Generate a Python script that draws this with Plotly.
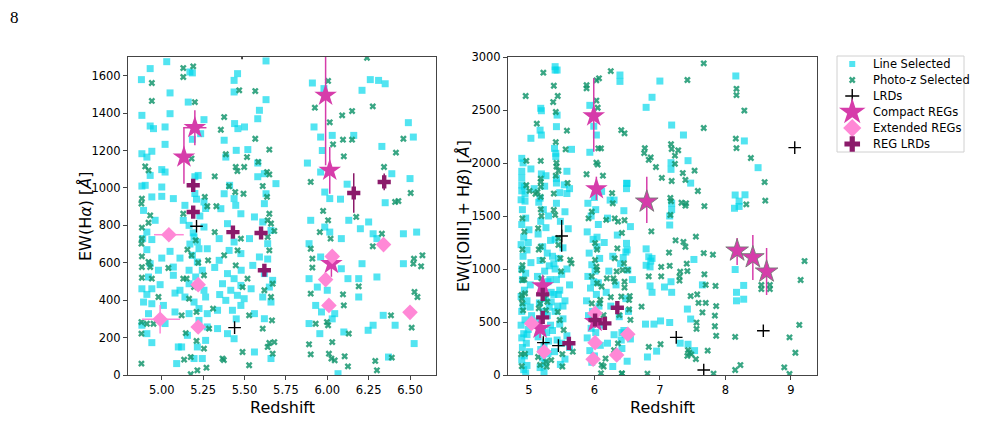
import plotly.graph_objects as go

# ---------------- LEFT PANEL DATA (EW Halpha) ----------------
L_line = [(5.03,1675),(4.93,1638),(4.877,1579),(5.05,1508),(4.88,1388),(5.05,1397),(4.93,1331),(4.95,1317),(5.02,1326),(5.02,1233),(4.88,1183),(4.94,1196),(4.91,1165),(5.0,1098),(5.02,1085),(4.93,1067),(4.9,1014),(4.88,1010),(5.0,1005),(4.94,952),(5.0,955),(5.07,943),(4.89,880),(4.96,827),(4.91,764),(4.885,729),(4.94,724),(4.91,670),(5.0,625),(5.11,625),(5.05,661),(4.93,595),(5.07,577),(4.92,524),(4.98,560),(5.07,533),(4.99,483),(4.88,461),(4.94,461),(4.91,431),(4.89,390),(4.94,381),(5.08,438),(5.11,453),(5.01,372),(4.92,328),(5.08,337),(4.91,221),(4.94,173),(5.1,150),(5.09,61),(4.88,266),(5.02,275),
 (5.17,1620),(5.185,1615),(5.16,1459),(5.255,1365),(5.235,1290),(5.185,1260),(5.22,1067),(5.2,1060),(5.14,907),(5.255,925),(5.265,890),(5.13,827),(5.255,791),(5.165,800),(5.195,738),(5.215,711),(5.225,675),(5.275,675),(5.185,640),(5.215,604),(5.165,560),(5.245,560),(5.205,524),(5.165,488),(5.255,453),(5.14,417),(5.195,390),(5.265,417),(5.225,355),(5.165,328),(5.275,328),(5.225,292),(5.275,257),(5.155,212),(5.265,185),(5.215,150),(5.195,88),(5.245,88),(5.12,150),(5.2,970),(5.21,940),(5.23,850),(5.19,760),(5.17,700),
 (5.377,1255),(5.44,1344),(5.46,1317),(5.5,1326),(5.45,1201),(5.387,1165),(5.41,1014),(5.377,969),(5.437,943),(5.447,907),(5.357,889),(5.478,862),(5.397,809),(5.347,729),(5.437,711),(5.407,666),(5.478,649),(5.347,613),(5.397,542),(5.437,515),(5.367,488),(5.478,479),(5.417,453),(5.457,426),(5.387,399),(5.498,408),(5.337,346),(5.427,346),(5.478,372),(5.397,221),(5.437,194),(5.337,248),(5.458,1611),(5.437,1575),(5.437,1513),(5.32,575),(5.35,430),(5.45,300),(5.48,560),
 (5.63,1679),(5.63,1472),(5.59,1415),(5.58,1370),(5.52,1205),(5.58,1133),(5.62,1076),(5.69,1023),(5.63,969),(5.62,916),(5.56,845),(5.61,818),(5.66,773),(5.53,729),(5.64,702),(5.59,631),(5.55,586),(5.62,542),(5.67,506),(5.54,461),(5.61,417),(5.66,390),(5.56,328),(5.62,301),(5.56,123),(5.66,88),(5.58,1060),(5.64,620),(5.65,470),
 (5.91,1561),(5.98,1531),(5.92,1326),(5.96,1272),(6.03,1281),(5.88,1133),(5.96,1085),(5.985,978),(6.015,943),(5.9,827),(5.985,791),(6.015,764),(5.89,702),(5.96,631),(5.89,515),(5.94,470),(6.0,453),(5.93,372),(5.965,337),(5.955,221),(5.89,275),(6.065,7),(6.03,300),(5.97,1200),
 (6.21,1522),(6.16,1281),(6.26,1579),(6.31,1575),(6.35,1557),(6.33,1222),(6.39,1076),(6.35,921),(6.25,818),(6.13,827),(6.2,782),(6.085,729),(6.277,755),(6.3,729),(6.21,595),(6.085,568),(6.125,515),(6.19,515),(6.3,524),(6.19,417),(6.247,239),(6.277,266),(6.338,319),(6.37,96),(6.045,328),(6.1,230),(6.08,940),(6.12,1020),
 (6.49,1349),(6.52,1272),(6.5,1050),(6.46,755),(6.54,764),(6.46,595),(6.41,266),(6.525,168)]

L_photo = [(5.13,1641),(5.19,1650),(5.13,1593),(4.94,1561),(4.94,1465),(4.9,1115),(4.92,1094),(4.88,943),(4.877,916),(4.93,853),(4.92,814),(4.88,788),(4.88,729),(4.877,702),(4.88,634),(4.92,604),(4.93,577),(4.88,577),(4.88,520),(4.94,515),(4.98,417),(4.877,283),(4.91,274),(4.95,274),(4.877,221),(4.877,61),(5.04,572),(5.13,515),
 (5.2,1459),(5.18,1157),(5.13,862),(5.26,952),(5.275,902),(5.205,720),(5.155,670),(5.18,640),(5.28,613),(5.255,533),(5.22,600),(5.15,515),(5.195,470),(5.165,408),(5.12,319),(5.21,337),(5.145,224),(5.21,182),(5.255,141),(5.175,96),(5.135,82),(5.215,25),(5.27,39),(5.175,4),(5.32,1062),(5.32,764),(5.31,355),(5.286,248),(5.377,1379),(5.357,1311),(5.387,1180),(5.367,88),
 (5.447,1112),(5.457,1090),(5.498,1112),(5.515,1165),(5.407,1009),(5.444,978),(5.494,969),(5.33,902),(5.478,729),(5.458,666),(5.377,640),(5.447,586),(5.518,515),(5.488,470),(5.528,319),(5.488,123),(5.528,52),(5.468,1522),(5.565,1518),(5.375,80),
 (5.565,1263),(5.65,1205),(5.583,1139),(5.636,1085),(5.65,1072),(5.61,1010),(5.636,952),(5.65,862),(5.64,827),(5.66,810),(5.68,770),(5.64,738),(5.65,666),(5.67,488),(5.62,453),(5.66,417),(5.61,248),(5.666,292),(5.65,171),(5.68,176),(5.67,114),(5.64,150),
 (5.925,1429),(6.005,1572),(6.015,1351),(6.035,1233),(5.9,1032),(5.975,877),(6.005,827),(5.955,764),(6.02,729),(5.9,675),(5.91,622),(5.91,574),(5.9,435),(5.998,283),(6.005,266),(5.93,274),(5.89,164),(5.9,110),(6.03,176),(6.01,114),(6.025,88),(6.045,78),(6.095,431),(6.1,372),
 (6.09,1388),(6.15,1411),(6.275,1436),(6.095,1258),(6.15,1258),(6.1,1169),(6.175,845),(6.275,688),(6.33,755),(6.19,474),(6.13,221),(6.105,100),(6.125,46),(6.29,75),(6.3,25),(6.39,93),(6.385,319),(6.343,1112),(6.415,1189),(6.46,1263),(6.24,1696),(6.41,925),(6.43,930),
 (6.504,973),(6.524,622),(6.575,640),(6.52,595),(6.567,581),(6.527,444),(6.545,417),(6.51,253)]

L_lrd_z = [5.21, 5.44, 5.485]
L_lrd_ew = [795, 253, 1722]

L_comp_z = [5.20, 5.134, 5.99, 6.015, 6.025]
L_comp_ew = [1322, 1165, 1495, 1094, 595]
L_comp_ep = [93, 160, 300, 125, 70]
L_comp_em = [94, 143, 374, 125, 70]
L_comp_xe = [0.07, 0, 0, 0, 0]

L_ext_z = [5.043, 4.99, 5.22, 5.22, 6.03, 5.99, 6.01, 6.34, 6.50]
L_ext_ew = [750, 298, 483, 257, 634, 510, 372, 697, 335]
L_ext_ye = [0, 76, 0, 0, 0, 0, 0, 20, 0]
L_ext_xp = [0.09, 0.12, 0, 0, 0, 0, 0, 0, 0]
L_ext_xm = [0.09, 0.11, 0, 0, 0, 0, 0, 0, 0]

L_rl_z = [5.19, 5.19, 5.43, 5.60, 5.62, 6.16, 6.344]
L_rl_ew = [1014, 871, 764, 759, 560, 973, 1032]
L_rl_ye = [0, 0, 0, 0, 0, 105, 45]

# ---------------- RIGHT PANEL DATA (EW [OIII]+Hbeta) ----------------
R_line = [(5.40,2909),(5.40,2877),(5.43,2877),(5.18,2516),(5.19,2493),(5.03,2233),(5.19,2264),(5.17,2310),(5.42,2343),(5.43,2452),(5.39,2138),(5.41,2091),(5.41,2060),(5.65,2129),(4.89,2044),(4.91,2001),(5.03,1944),(4.89,1922),(5.19,1897),(5.26,1880),(5.42,1853),(5.58,1922),(4.89,1860),(4.89,1793),(4.93,1776),(4.94,1709),(4.89,1737),(5.08,1758),(5.24,1781),(5.42,1811),(5.54,1794),(5.62,1758),(5.58,1712),(5.47,1720),(4.94,1640),(4.88,1653),(5.17,1668),(5.93,2101),(5.99,2347),(6.03,2264),(5.93,2544),(6.0,1675),(6.11,1732),(6.24,1650),(6.39,2830),(6.49,1808),(6.49,1758),
 (6.39,2770),(7.0,2773),(6.88,2620),(6.79,2525),(7.18,2358),(7.36,2264),(8.16,2821),(8.29,2208),(7.43,2022),(7.17,2003),(8.50,1956),(6.50,1808),(7.17,1940),(7.47,1810),(8.15,1698),(8.30,1700),(8.21,1640),(8.14,1573),(7.18,1620),
 (4.90,1560),(4.95,1480),(4.89,1420),(5.00,1370),(4.92,1300),(4.88,1230),(4.97,1180),(4.91,1120),(5.03,1060),(4.89,1000),(4.95,960),(4.90,900),(5.02,850),(4.93,800),(4.88,740),(4.97,700),(4.91,650),(4.89,600),(5.04,560),(4.94,520),(4.88,470),(4.99,430),(4.92,390),(4.89,350),(4.96,300),(4.90,260),(5.01,220),(4.93,180),(4.89,140),(4.97,90),(4.92,50),(4.95,20),(4.99,1250),(5.02,640),(4.97,380),
 (5.15,1630),(5.22,1560),(5.30,1500),(5.18,1450),(5.26,1390),(5.14,1330),(5.33,1270),(5.21,1210),(5.28,1150),(5.17,1080),(5.31,1030),(5.24,980),(5.13,930),(5.29,880),(5.19,830),(5.34,780),(5.25,720),(5.16,680),(5.31,640),(5.22,600),(5.28,560),(5.15,510),(5.33,470),(5.20,430),(5.27,400),(5.14,360),(5.30,320),(5.23,280),(5.18,240),(5.29,200),(5.21,160),(5.25,110),(5.17,70),(5.23,30),(5.32,900),(5.34,690),(5.36,1120),
 (5.42,1620),(5.55,1540),(5.48,1450),(5.60,1380),(5.40,1280),(5.52,1200),(5.45,1100),(5.38,1050),(5.58,1000),(5.50,950),(5.42,900),(5.62,850),(5.47,800),(5.38,760),(5.55,700),(5.44,650),(5.40,600),(5.52,530),(5.47,480),(5.36,420),(5.58,370),(5.43,330),(5.50,300),(5.62,260),(5.39,220),(5.55,150),(5.48,100),(5.40,1000),(5.45,760),(5.52,650),
 (5.90,1620),(6.02,1560),(5.95,1500),(6.06,1420),(5.89,1350),(5.98,1280),(6.04,1210),(5.92,1150),(6.08,1100),(5.96,1040),(6.01,980),(5.90,930),(6.06,870),(5.94,820),(6.03,760),(5.88,700),(6.07,650),(5.97,600),(5.91,560),(6.05,500),(5.95,440),(6.02,400),(5.89,350),(6.09,280),(5.93,230),(6.00,180),(5.96,120),(6.04,1300),(5.99,880),
 (6.30,1650),(6.45,1550),(6.20,1480),(6.55,1400),(6.35,1320),(6.15,1250),(6.50,1180),(6.28,1120),(6.40,1050),(6.22,980),(6.58,900),(6.33,850),(6.18,780),(6.48,720),(6.25,650),(6.52,600),(6.38,550),(6.12,470),(6.45,420),(6.30,380),(6.55,340),(6.20,300),(6.42,250),(6.35,180),(6.50,130),(6.28,80),
 (6.49,1242),(6.48,1160),(6.44,1108),(6.51,990),(6.79,1190),(6.83,1115),(6.86,1075),(6.88,1100),(6.85,1020),(6.79,1035),(7.15,1415),(7.15,1500),(7.18,1560),(7.52,1090),(7.17,880),(7.18,780),(7.07,830),(6.88,780),(6.85,840),(7.42,622),(7.47,528),(7.31,300),(6.81,170),(6.95,225),(7.01,510),(6.91,480),(6.78,480),(7.15,495),(7.43,290),(7.53,230),(7.65,850),(8.15,995),(8.21,1590),(8.17,780),(8.28,845),(8.28,715),(8.17,700),(6.42,400),(6.47,385),(6.41,330)]

R_photo = [(4.95,2632),(4.96,2020),(5.22,2852),(5.38,2729),(5.44,2632),(5.37,2575),(5.41,2481),(5.12,2371),(5.58,2305),(5.41,2197),(5.56,2129),(5.18,2020),(5.42,2001),(5.42,1966),(5.45,1927),(5.41,1880),(5.18,1853),(5.18,1822),(5.59,1811),(4.96,1790),(5.01,1737),(5.13,1726),(5.10,1709),(5.18,1775),(5.18,1680),(5.38,1712),(5.88,2734),(5.88,2704),(6.03,2780),(6.07,2799),(6.03,2589),(6.05,2521),(6.06,2138),(6.10,2138),(6.03,2004),(6.05,1985),(5.88,1894),(6.13,1880),(6.27,1716),(6.25,2867),(6.46,2280),
 (7.67,2940),(7.42,2783),(8.17,2700),(8.17,2640),(8.29,2495),(6.41,2310),(7.67,2330),(8.16,2230),(8.17,2140),(6.77,2140),(6.76,2093),(7.17,2178),(7.18,2132),(7.28,2120),(7.23,2070),(6.86,2053),(6.83,2030),(6.94,1962),(7.23,1992),(7.03,1860),(7.18,1830),(7.35,1905),(7.39,1840),(7.53,1928),(7.58,1736),(8.39,2047),(8.60,1820),(8.61,1645),(8.32,1610),(7.68,1593),(7.16,1670),(7.17,1640),(7.33,1625),(7.39,1597),(7.40,1620),
 (4.90,1478),(4.93,1352),(4.90,1184),(4.90,1036),(4.89,990),(4.90,896),(4.89,755),(4.89,720),(4.90,675),(4.91,610),(4.94,770),(4.93,900),(4.88,196),(4.94,200),(4.89,83),(5.14,1384),(5.18,1211),(5.15,1184),(5.18,1563),(5.19,1500),(5.21,1085),(5.38,1557),(5.40,1510),(5.45,1290),(5.45,1227),(5.48,1101),(5.63,1085),(5.65,1053),(5.49,977),(5.19,912),(5.17,675),(5.15,629),(5.26,612),(5.28,690),(5.24,723),(5.44,595),(5.47,519),(5.53,425),(5.67,220),(5.51,197),(5.34,140),(5.26,127),(5.17,95),(5.27,80),(5.51,80),(5.14,170),
 (5.91,1478),(5.96,1540),(6.01,1245),(6.04,1184),(6.01,1085),(6.03,1022),(6.04,990),(5.96,930),(6.04,865),(6.11,835),(6.09,708),(6.08,675),(5.96,675),(5.99,550),(6.14,565),(6.19,912),(6.29,912),(6.34,977),(6.45,1053),(6.31,880),(6.42,1340),(6.36,1447),(6.31,1478),(6.35,1195),(6.31,1100),(6.43,990),(6.46,880),(6.53,708),(6.55,520),(6.30,234),(6.36,298),(6.38,565),(6.41,740),(6.25,735),(6.17,155),(6.14,80),(6.10,16),(6.11,95),(6.42,16),(6.28,1620),(6.18,1463),
 (6.46,1460),(6.87,1355),(7.16,1510),(7.24,1270),(7.36,1255),(7.39,1210),(7.55,1305),(7.67,1150),(7.81,1135),(7.14,1155),(7.15,1030),(7.31,975),(7.41,1050),(6.51,990),(7.02,1020),(6.83,930),(7.02,930),(7.30,930),(7.42,980),(7.68,950),(7.70,850),(7.85,840),(7.30,890),(6.46,825),(6.54,745),(7.47,745),(7.57,760),(6.53,620),(6.72,645),(7.59,680),(7.70,680),(7.65,590),(7.86,650),(7.84,560),(7.56,495),(7.56,435),(7.84,460),(7.86,370),(8.15,360),(9.21,1075),(9.15,896),(8.55,850),(8.55,810),(8.68,810),(8.68,850),(8.98,355),(9.13,472),(9.07,210),(8.90,72),(8.98,10),(8.23,94),(8.15,47),(6.83,265),(7.01,290),(7.43,235),(7.45,210),(7.42,180),(7.48,195),(7.73,230),(7.82,13),(7.55,150),(6.81,13),(6.42,13)]

R_lrd_z = [5.50, 5.45, 5.22, 7.25, 7.67, 8.58, 9.06]
R_lrd_ew = [1311, 277, 305, 355, 47, 418, 2145]
R_lrd_ep = [151, 0, 40, 0, 0, 0, 0]
R_lrd_em = [148, 0, 40, 0, 0, 0, 0]

R_comp_z = [5.99, 6.03, 6.80, 8.18, 8.42, 8.63, 5.21, 5.17, 6.01]
R_comp_ew = [2443, 1755, 1635, 1173, 1110, 975, 840, 440, 503]
R_comp_ep = [356, 116, 236, 119, 211, 223, 0, 90, 60]
R_comp_em = [336, 104, 201, 135, 214, 220, 0, 90, 60]

R_ext_z = [5.04, 5.23, 6.01, 6.01, 5.98, 6.34, 6.51]
R_ext_ew = [487, 220, 582, 305, 148, 189, 384]

R_rl_z = [5.21, 5.21, 6.01, 6.16, 6.35, 5.61]
R_rl_ew = [761, 544, 519, 487, 635, 299]

LEGEND_LABELS = ["Line Selected", "Photo-z Selected", "LRDs", "Compact REGs", "Extended REGs", "REG LRDs"]

# ---------------- styles ----------------
CYAN = "rgba(0,215,235,0.68)"
GREEN = "rgba(22,150,110,0.85)"
STAR = "#d63caa"
DIAM = "#ff88d6"
RLRD = "#8b1a6a"
FONT = "DejaVu Sans"

STYLES = [
    dict(symbol="square", size=7, color=CYAN, line=dict(width=0)),
    dict(symbol="x", size=6, color=GREEN, line=dict(width=0)),
    dict(symbol="cross-thin", size=9, color="black", line=dict(width=1.4, color="black")),
    dict(symbol="star", size=17, color=STAR, line=dict(width=0)),
    dict(symbol="diamond", size=12, color=DIAM, line=dict(width=0)),
    dict(symbol="cross", size=11, color=RLRD, line=dict(width=0)),
]

fig = go.Figure()

def panel(line, photo, lrd_z, lrd_ew, lrd_ep, lrd_em, cz, cew, cep, cem, cxe, star_edge,
          ez, eew, eye, exp, exm, rz, rew, rye, xa, ya):
    common = dict(mode="markers", showlegend=False, xaxis=xa, yaxis=ya)
    fig.add_trace(go.Scatter(x=[p[0] for p in line], y=[p[1] for p in line], name=LEGEND_LABELS[0],
                             marker=STYLES[0], **common))
    fig.add_trace(go.Scatter(x=[p[0] for p in photo], y=[p[1] for p in photo], name=LEGEND_LABELS[1],
                             marker=STYLES[1], **common))
    fig.add_trace(go.Scatter(x=lrd_z, y=lrd_ew, name=LEGEND_LABELS[2],
        error_y=dict(type="data", array=lrd_ep, arrayminus=lrd_em, color="black", thickness=1.3, width=0),
        marker=STYLES[2], **common))
    star = dict(STYLES[3])
    star["line"] = dict(width=[1 if e else 0 for e in star_edge], color="rgba(120,120,120,0.9)")
    fig.add_trace(go.Scatter(x=cz, y=cew, name=LEGEND_LABELS[3],
        error_y=dict(type="data", array=cep, arrayminus=cem, color=STAR, thickness=1.5, width=0),
        error_x=dict(type="data", array=cxe, color=STAR, thickness=1.5, width=0),
        marker=star, **common))
    fig.add_trace(go.Scatter(x=ez, y=eew, name=LEGEND_LABELS[4],
        error_y=dict(type="data", array=eye, color=DIAM, thickness=1.5, width=0),
        error_x=dict(type="data", array=exp, arrayminus=exm, color=DIAM, thickness=1.5, width=0),
        marker=STYLES[4], **common))
    fig.add_trace(go.Scatter(x=rz, y=rew, name=LEGEND_LABELS[5],
        error_y=dict(type="data", array=rye, color=RLRD, thickness=1.5, width=0),
        marker=STYLES[5], **common))

panel(L_line, L_photo, L_lrd_z, L_lrd_ew, [0]*3, [0]*3,
      L_comp_z, L_comp_ew, L_comp_ep, L_comp_em, L_comp_xe, [0]*5,
      L_ext_z, L_ext_ew, L_ext_ye, L_ext_xp, L_ext_xm,
      L_rl_z, L_rl_ew, L_rl_ye, "x", "y")
panel(R_line, R_photo, R_lrd_z, R_lrd_ew, R_lrd_ep, R_lrd_em,
      R_comp_z, R_comp_ew, R_comp_ep, R_comp_em, [0]*9, [0, 0, 1, 1, 1, 1, 0, 0, 0],
      R_ext_z, R_ext_ew, [0]*7, [0]*7, [0]*7,
      R_rl_z, R_rl_ew, [0]*6, "x2", "y2")

W, H = 993, 444

# --- compact legend drawn in its own small axis ---
LEG_X0, LEG_X1, LEG_Y0, LEG_Y1 = 837, 964, 56, 152
leg_sizes = [6, 6, 10, 20, 14, 13]
for i, lab in enumerate(LEGEND_LABELS):
    m = dict(STYLES[i])
    m["size"] = leg_sizes[i]
    fig.add_trace(go.Scatter(x=[0.12], y=[i + 0.5], mode="markers", marker=m, showlegend=False,
                             hoverinfo="skip", xaxis="x3", yaxis="y3", cliponaxis=False))
legend_ann = [dict(text=lab, x=0.27, y=i + 0.5, xref="x3", yref="y3", xanchor="left", yanchor="middle",
                   showarrow=False, font=dict(family=FONT, size=11.5, color="black"))
              for i, lab in enumerate(LEGEND_LABELS)]

# --- axis titles placed as annotations ---
L_X0, L_X1, R_X0, R_X1, TOP, BOT = 128, 436, 508, 817, 57, 375
title_ann = [
    dict(text="Redshift", x=(L_X0 + L_X1) / 2 / W, y=1 - 407 / H),
    dict(text="Redshift", x=(R_X0 + R_X1) / 2 / W, y=1 - 407 / H),
    dict(text="EW(H<i>α</i>) [<i>Å</i>]", x=85 / W, y=1 - (TOP + BOT) / 2 / H, textangle=-90),
    dict(text="EW([OIII] + H<i>β</i>) [<i>Å</i>]", x=463 / W, y=1 - (TOP + BOT) / 2 / H, textangle=-90),
]
for a in title_ann:
    a.update(xref="paper", yref="paper", xanchor="center", yanchor="middle", showarrow=False,
             font=dict(family=FONT, size=16, color="black"))

axcommon = dict(showline=True, linecolor="#444", linewidth=1, mirror=True, ticks="outside",
                ticklen=4, tickcolor="#444", showgrid=False, zeroline=False, automargin=False,
                tickfont=dict(family=FONT, size=11.5, color="black"))
ydom = [1 - BOT / H, 1 - TOP / H]
fig.update_layout(
    width=W, height=H, margin=dict(l=0, r=0, t=0, b=0, autoexpand=False),
    paper_bgcolor="white", plot_bgcolor="white", showlegend=False,
    font=dict(family=FONT, color="black"),
    xaxis=dict(domain=[L_X0 / W, L_X1 / W], range=[4.796, 6.657], tickvals=[5.0, 5.25, 5.5, 5.75, 6.0, 6.25, 6.5],
               tickformat=".2f", anchor="y", **axcommon),
    yaxis=dict(domain=ydom, range=[0, 1700], tickvals=list(range(0, 1700, 200)), anchor="x", **axcommon),
    xaxis2=dict(domain=[R_X0 / W, R_X1 / W], range=[4.68, 9.40], tickvals=[5, 6, 7, 8, 9], anchor="y2", **axcommon),
    yaxis2=dict(domain=ydom, range=[0, 3000], tickvals=list(range(0, 3001, 500)), anchor="x2", **axcommon),
    xaxis3=dict(domain=[LEG_X0 / W, LEG_X1 / W], range=[0, 1], visible=False, fixedrange=True, anchor="y3"),
    yaxis3=dict(domain=[1 - LEG_Y1 / H, 1 - LEG_Y0 / H], range=[6.0, 0.0], visible=False, fixedrange=True, anchor="x3"),
    shapes=[dict(type="rect", xref="paper", yref="paper", x0=LEG_X0 / W, x1=LEG_X1 / W,
                 y0=1 - LEG_Y1 / H, y1=1 - LEG_Y0 / H, line=dict(color="#d0d0d0", width=1), layer="below")],
    annotations=[dict(text="8", x=8 / W, y=1 - 6 / H, xref="paper", yref="paper", xanchor="left", yanchor="top",
                      showarrow=False, font=dict(family="Liberation Serif", size=17, color="black"))]
                + legend_ann + title_ann,
)

fig.write_html("out.html")
